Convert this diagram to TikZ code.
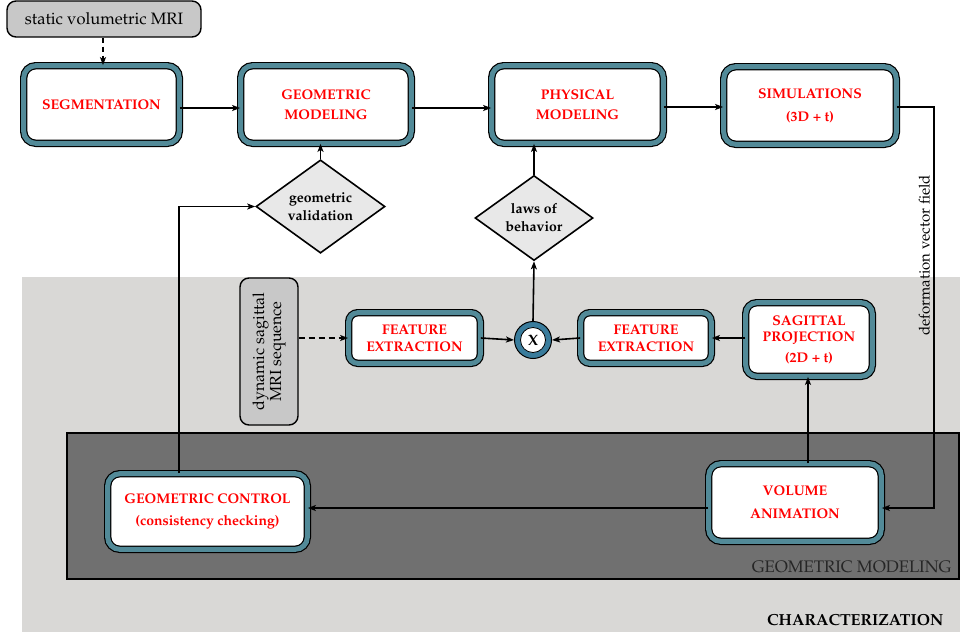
\documentclass[tikz,border=0pt]{standalone}
\usepackage[T1]{fontenc}
\usepackage{mathpazo}
\usetikzlibrary{shapes.geometric,arrows.meta}
\definecolor{boxteal}{RGB}{82,138,152}
\definecolor{circteal}{RGB}{58,124,156}
\definecolor{srcgray}{RGB}{200,200,200}
\definecolor{diagray}{RGB}{232,232,232}
\definecolor{charbg}{RGB}{217,216,214}
\definecolor{geobg}{RGB}{112,112,112}
\tikzset{
  mbox/.style={draw=black, line width=1.2pt, double=boxteal, double distance=5pt,
    rounded corners=12pt, fill=white, align=center, text=red,
    font=\fontsize{14}{20}\selectfont\bfseries, inner sep=0pt},
  sbox/.style={mbox, rounded corners=9pt, font=\fontsize{14}{17}\selectfont\bfseries},
  srcbox/.style={draw=black, line width=1.4pt, fill=srcgray, rounded corners=9pt,
    align=center, inner sep=0pt, font=\fontsize{16.5}{18}\selectfont},
  dia/.style={diamond, draw=black, line width=1.6pt, fill=diagray, align=center,
    inner sep=0pt, font=\fontsize{14}{18}\selectfont\bfseries},
  conn/.style={line width=1.6pt, -{Stealth[length=8pt,width=6pt,inset=2pt]}},
}
\begin{document}
\begin{tikzpicture}[x=1pt,y=-1pt]
\useasboundingbox (0,0) rectangle (960,635);
% background regions
\fill[charbg] (22,277) rectangle (960,632);
\draw[fill=geobg, line width=1.2pt] (67,433) rectangle (959,579);
\node[anchor=east, text=black!85, font=\fontsize{16.7}{18}\selectfont] (geolbl) at (955,567) {GEOMETRIC MODELING};
\node[anchor=east, font=\fontsize{16}{18}\selectfont\bfseries] (charlbl) at (947,620) {CHARACTERIZATION};

% sources
\node[srcbox, minimum width=194, minimum height=36] (smri) at (104,19) {static volumetric MRI};
\node[srcbox, minimum width=147, minimum height=58, rotate=90, font=\fontsize{16}{17}\selectfont] (dmri) at (269,351.5) {dynamic sagittal\\MRI sequence};

% main boxes
\node[mbox, minimum width=155.6, minimum height=77.6] (seg) at (101.5,104.5) {SEGMENTATION};
\node[mbox, minimum width=170.6, minimum height=77.6] (geo) at (326,104.5) {GEOMETRIC\\MODELING};
\node[mbox, minimum width=171.6, minimum height=77.6] (phys) at (577.5,104.5) {PHYSICAL\\MODELING};
\node[mbox, minimum width=172.6, minimum height=77.6] (sim) at (810,105.5) {SIMULATIONS\\[3pt](3D + t)};
\node[sbox, minimum width=131.6, minimum height=50.6] (fe1) at (414.5,338) {FEATURE\\EXTRACTION};
\node[sbox, minimum width=130.6, minimum height=50.6] (fe2) at (646,338) {FEATURE\\EXTRACTION};
\node[mbox, rounded corners=11pt, font=\fontsize{14}{16}\selectfont\bfseries, minimum width=126.6, minimum height=73.6] (sag) at (809,339.5) {SAGITTAL\\PROJECTION\\[5pt](2D + t)};
\node[mbox, minimum width=172.6, minimum height=77.6] (vol) at (795,502.5) {VOLUME\\[3pt]ANIMATION};
\node[mbox, minimum width=199.6, minimum height=75.6] (gc) at (207.5,511.5) {GEOMETRIC CONTROL\\[2pt](consistency checking)};

% diamonds
\node[dia, minimum width=129, minimum height=87] (gval) at (320.5,206.5) {geometric\\validation};
\node[dia, minimum width=118, minimum height=82] (laws) at (534,218) {laws of\\behavior};

% combiner
\node[circle, draw=black, line width=1pt, fill=circteal, minimum size=37, inner sep=0pt] (mix) at (533,340) {};
\node[circle, draw=black, line width=0.8pt, fill=white, minimum size=25, inner sep=0pt, font=\fontsize{15}{16}\selectfont\bfseries] (mixin) at (mix.center) {X};

% connectors
\draw[conn, dashed, dash pattern=on 5pt off 4pt] (smri.south -| 103,0) -- (seg.north -| 103,0);
\draw[conn] (seg.east |- 0,108) -- (geo.west |- 0,108);
\draw[conn] (geo.east |- 0,108) -- (phys.west |- 0,108);
\draw[conn] (phys.east |- 0,107) -- (sim.west |- 0,107);
\coordinate (dvf1) at (934,107);
\coordinate (dvf2) at (934,508);
\draw[conn] (sim.east |- dvf1) -- (dvf1) -- node[pos=0.37, above, sloped, font=\fontsize{15}{17}\selectfont, rotate=180] (dvflbl) {deformation vector field} (dvf2) -- (vol.east |- dvf2);
\draw[conn] (gval.north) -- (geo.south -| gval.north);
\draw[conn] (laws.north) -- (phys.south -| laws.north);
\coordinate (gcup) at (179,206.5);
\draw[conn] (gc.north -| gcup) -- (gcup) -- (gval.west);
\draw[conn, dashed, dash pattern=on 6pt off 4pt] (dmri.south |- fe1.west) -- (fe1.west);
\draw[conn] (fe1.east) -- (mix.west);
\draw[conn] (fe2.west) -- (mix.east);
\draw[conn] (sag.west |- fe2.east) -- (fe2.east);
\draw[conn] (mix.north) -- (laws.south);
\draw[conn] (vol.north -| 808,0) -- (sag.south -| 808,0);
\draw[conn] (vol.west |- 0,508) -- (gc.east |- 0,508);
\end{tikzpicture}
\end{document}
